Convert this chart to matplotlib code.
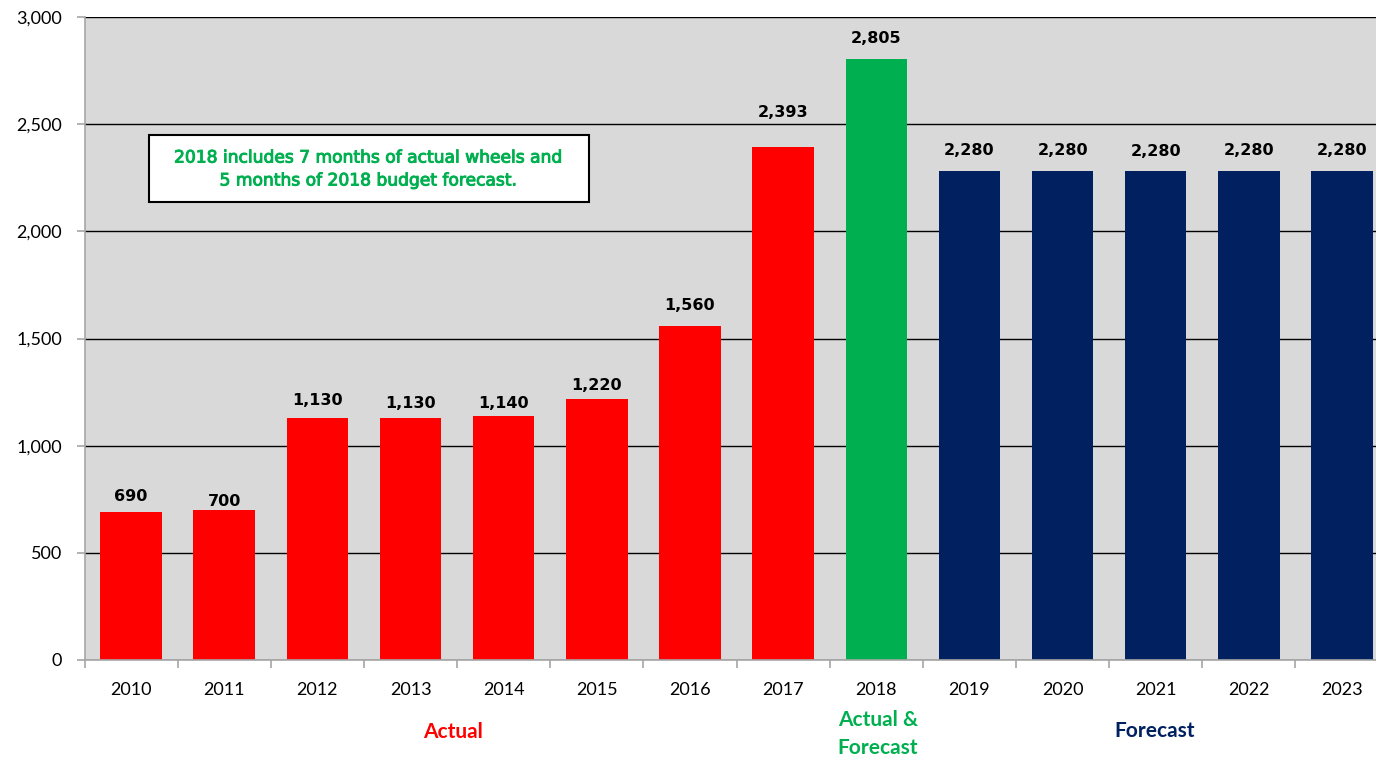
import matplotlib
matplotlib.use("Agg")
import matplotlib.pyplot as plt
import matplotlib.patheffects as pe
from matplotlib.ticker import FuncFormatter, MultipleLocator

years = ["2010", "2011", "2012", "2013", "2014", "2015", "2016", "2017",
         "2018", "2019", "2020", "2021", "2022", "2023"]
values = [690, 700, 1130, 1130, 1140, 1220, 1560, 2393, 2805,
          2280, 2280, 2280, 2280, 2280]
groups = ["Actual"] * 8 + ["Actual & Forecast"] + ["Forecast"] * 5
group_colors = {"Actual": "#FF0000", "Actual & Forecast": "#00B050", "Forecast": "#002060"}
note = "2018 includes 7 months of actual wheels and\n5 months of 2018 budget forecast."

# style: how far (px) each value label sits above its bar (as in the original, hand-placed)
label_lift_px = [16, 8, 17, 14, 12, 13, 20, 35, 20, 21, 21, 20, 21, 21]

W, H = 1376, 759
fig = plt.figure(figsize=(W / 100, H / 100), dpi=100)
ax_left, ax_right, ax_top, ax_bot = 84.5, 1388.6, 17, 660
ax = fig.add_axes([ax_left / W, 1 - ax_bot / H, (ax_right - ax_left) / W, (ax_bot - ax_top) / H])
ax.set_facecolor("#D9D9D9")

x = list(range(len(years)))
colors = [group_colors[g] for g in groups]
ax.bar(x, values, width=0.66, color=colors, zorder=3)

ax.set_xlim(-0.5, len(years) - 0.5)
ax.set_ylim(0, 3000)
ax.yaxis.set_major_locator(MultipleLocator(500))
ax.yaxis.set_major_formatter(FuncFormatter(lambda v, p: f"{int(v):,}"))
ax.grid(axis="y", color="black", linewidth=1.0, zorder=1)
ax.set_axisbelow(True)

for s in ["top", "right"]:
    ax.spines[s].set_visible(False)
for s in ["left", "bottom"]:
    ax.spines[s].set_color("#A6A6A6")
    ax.spines[s].set_linewidth(1.2)
    ax.spines[s].set_zorder(4)

ax.set_xticks(x)
ax.set_xticklabels(years, fontfamily="Lato", fontsize=13)
ax.tick_params(axis="x", which="major", length=0, pad=16)
ax.set_xticks([i - 0.5 for i in range(len(years) + 1)], minor=True)
ax.tick_params(axis="x", which="minor", length=6, color="#A6A6A6", width=1.2, direction="out")
ax.tick_params(axis="y", length=6, color="#A6A6A6", width=1.2, pad=10)
for t in ax.get_yticklabels():
    t.set_fontfamily("Lato")
    t.set_fontsize(13)

for xi, v, lift in zip(x, values, label_lift_px):
    ax.annotate(f"{v:,}", (xi, v), xytext=(0, lift * 0.72), textcoords="offset points",
                ha="center", va="center", fontsize=11.5, fontweight="bold",
                fontfamily="DejaVu Sans", color="black", zorder=6)

# group labels
def fig_text(px, py, s, color, **kw):
    fig.text(px / W, 1 - py / H, s, color=color, ha="center", va="center",
             fontfamily="Lato", fontweight="bold", fontsize=15, **kw)

fig_text(453, 732, "Actual", group_colors["Actual"])
fig_text(878, 734, "Actual &\nForecast", group_colors["Actual & Forecast"], linespacing=1.45)
fig_text(1155, 731, "Forecast", group_colors["Forecast"])

# note box
fig.patches.append(plt.Rectangle((149 / W, 1 - 202 / H), (589 - 149) / W, (202 - 135) / H,
                                 transform=fig.transFigure, facecolor="white",
                                 edgecolor="black", linewidth=1.5, zorder=5))
fig.text(369 / W, 1 - 169 / H, note, ha="center", va="center", color="#00B050",
         fontsize=12.3, fontfamily="DejaVu Sans", linespacing=1.35, zorder=6,
         path_effects=[pe.withStroke(linewidth=0.7, foreground="#00B050")])

fig.savefig("out.png", dpi=100)
